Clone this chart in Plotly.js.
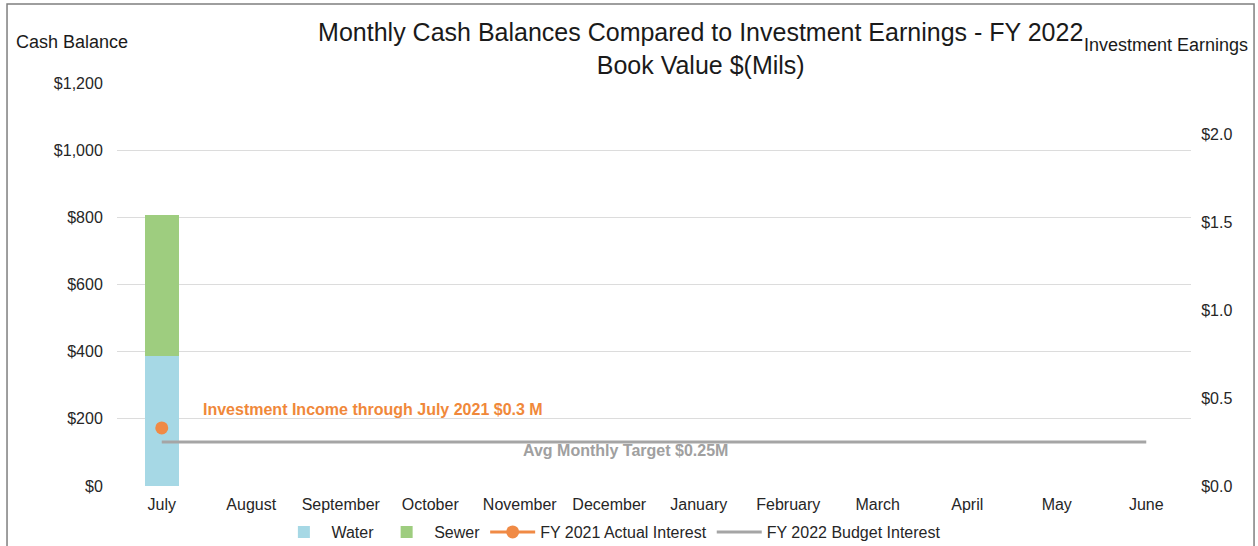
<!DOCTYPE html>
<html>
<head>
<meta charset="utf-8">
<script src="https://cdn.plot.ly/plotly-3.0.1.min.js"></script>
<style>
html,body{margin:0;padding:0;background:#fff;}
#chart{width:1258px;height:546px;}
</style>
</head>
<body>
<div id="chart"></div>
<script>
const months = ["July","August","September","October","November","December","January","February","March","April","May","June"];
const water = [387, null, null, null, null, null, null, null, null, null, null, null];
const sewer = [421, null, null, null, null, null, null, null, null, null, null, null];
const fy2021Actual = [0.33, null, null, null, null, null, null, null, null, null, null, null];
const fy2022Budget = [0.25, 0.25, 0.25, 0.25, 0.25, 0.25, 0.25, 0.25, 0.25, 0.25, 0.25, 0.25];
const leftTicks = [0, 200, 400, 600, 800, 1000, 1200];
const leftTickText = ["$0", "$200", "$400", "$600", "$800", "$1,000", "$1,200"];
const rightTicks = [0, 0.5, 1.0, 1.5, 2.0];
const rightTickText = ["$0.0", "$0.5", "$1.0", "$1.5", "$2.0"];

const FONT = "Liberation Sans, Arial, sans-serif";

const traces = [
  {type: "bar", name: "Water", x: months, y: water, marker: {color: "#A6D8E5"}, width: 0.38, yaxis: "y"},
  {type: "bar", name: "Sewer", x: months, y: sewer, marker: {color: "#9ECD7F"}, width: 0.38, yaxis: "y"},
  {type: "scatter", mode: "lines+markers", name: "FY 2021 Actual Interest", x: months, y: fy2021Actual,
   yaxis: "y2", line: {color: "#F08A45", width: 3}, marker: {color: "#F08A45", size: 13}},
  {type: "scatter", mode: "lines", name: "FY 2022 Budget Interest", x: months, y: fy2022Budget,
   yaxis: "y2", line: {color: "#A5A5A5", width: 3}}
];

const layout = {
  width: 1258, height: 546,
  margin: {l: 117, r: 67, t: 83, b: 60},
  paper_bgcolor: "#ffffff", plot_bgcolor: "#ffffff",
  font: {family: FONT, size: 16, color: "#262626"},
  barmode: "stack",
  showlegend: true,
  legend: {orientation: "h", xref: "container", yref: "container", x: 0.486, xanchor: "center", y: 0.0256, yanchor: "middle",
           bgcolor: "rgba(0,0,0,0)", itemwidth: 45,
           font: {family: FONT, size: 16, color: "#262626"}, traceorder: "normal"},
  title: {text: "Monthly Cash Balances Compared to Investment Earnings - FY 2022<br>Book Value $(Mils)",
          font: {family: FONT, size: 25, color: "#1a1a1a"},
          xref: "container", x: 0.557, xanchor: "center",
          yref: "container", y: 0.924, yanchor: "top"},
  xaxis: {type: "category", range: [-0.5, 11.5], showgrid: false, zeroline: false, showline: false, automargin: false,
          ticks: "outside", ticklen: 4, tickcolor: "rgba(0,0,0,0)",
          tickfont: {family: FONT, size: 16, color: "#262626"}},
  yaxis: {range: [0, 1200], tickvals: leftTicks, ticktext: leftTickText, automargin: false,
          showgrid: true, gridcolor: "#DCDCDC", gridwidth: 1, zeroline: false, showline: false,
          ticks: "outside", ticklen: 10, tickcolor: "rgba(0,0,0,0)",
          tickfont: {family: FONT, size: 16, color: "#262626"}},
  yaxis2: {range: [0, 2.29], tickvals: rightTicks, ticktext: rightTickText, overlaying: "y", side: "right",
           showgrid: false, zeroline: false, showline: false, automargin: false,
           ticks: "outside", ticklen: 6, tickcolor: "rgba(0,0,0,0)",
           tickfont: {family: FONT, size: 16, color: "#262626"}},
  annotations: [
    {text: "Cash Balance", xref: "paper", yref: "paper", x: -0.0959, xanchor: "left", y: 1.1017, yanchor: "middle",
     showarrow: false, font: {family: FONT, size: 18, color: "#1a1a1a"}},
    {text: "Investment Earnings", xref: "paper", yref: "paper", x: 1.0549, xanchor: "right", y: 1.094, yanchor: "middle",
     showarrow: false, font: {family: FONT, size: 18, color: "#1a1a1a"}},
    {text: "<b>Investment Income through July 2021 $0.3 M</b>", xref: "paper", yref: "paper",
     x: 0.0782, xanchor: "left", y: 0.1886, yanchor: "middle", showarrow: false,
     font: {family: FONT, size: 16, color: "#F0883A"}},
    {text: "<b>Avg Monthly Target $0.25M</b>", xref: "paper", yref: "paper",
     x: 0.376, xanchor: "left", y: 0.0873, yanchor: "middle", showarrow: false,
     font: {family: FONT, size: 16, color: "#A0A0A0"}}
  ],
  shapes: [
    {type: "rect", xref: "paper", yref: "paper", x0: -0.1024, x1: 1.0587, y0: -0.25, y1: 1.196,
     line: {color: "#7F7F7F", width: 1.5}, fillcolor: "rgba(0,0,0,0)", layer: "below"}
  ]
};

Plotly.newPlot("chart", traces, layout, {displayModeBar: false, staticPlot: true});
</script>
</body>
</html>
